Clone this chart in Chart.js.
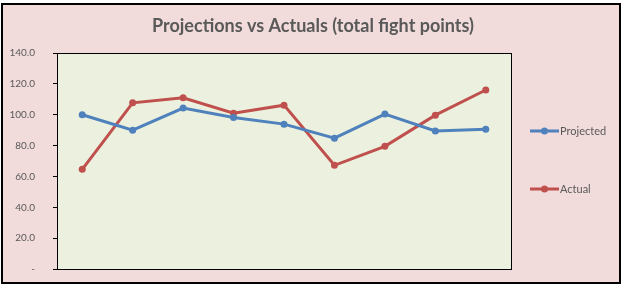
<!DOCTYPE html>
<html>
<head>
<meta charset="utf-8">
<script src="https://cdn.jsdelivr.net/npm/chart.js@4"></script>
<style>
  body { margin: 0; background: #fff; }
  #wrap {
    position: absolute; left: 1px; top: 3px;
    width: 616px; height: 277px;
    border: 2px solid #000;
    background: #F2DCDB;
  }
  canvas { display: block; }
</style>
</head>
<body>
<div id="wrap"><canvas id="chart" width="616" height="277"></canvas></div>
<script>
const fights = ['Fight 1', 'Fight 2', 'Fight 3', 'Fight 4', 'Fight 5', 'Fight 6', 'Fight 7', 'Fight 8', 'Fight 9'];
const projected = [100.0, 90.0, 104.3, 98.2, 93.9, 84.8, 100.4, 89.5, 90.6];
const actual = [64.6, 107.7, 111.0, 101.0, 106.2, 67.2, 79.5, 99.7, 116.0];
const yTicks = [0, 20, 40, 60, 80, 100, 120, 140];
const seriesNames = ['Projected', 'Actual'];
const blue = '#4F81BD';
const red = '#C0504D';
const greyText = '#595959';
const font = 'Lato, "Open Sans", sans-serif';

// plot background, border, title and excel-like legend
const excelLook = {
    id: 'excelLook',
    beforeDraw: function(chart) {
        const ctx = chart.ctx;
        const a = chart.chartArea;
        ctx.save();
        ctx.fillStyle = '#EBF1DE';
        ctx.fillRect(a.left, a.top, a.right - a.left, a.bottom - a.top);
        ctx.restore();
    },
    afterDraw: function(chart) {
        const ctx = chart.ctx;
        const a = chart.chartArea;
        ctx.save();
        ctx.strokeStyle = '#000';
        ctx.lineWidth = 1;
        ctx.strokeRect(Math.round(a.left) + 0.5, Math.round(a.top) + 0.5, Math.round(a.right - a.left), Math.round(a.bottom - a.top));

        ctx.fillStyle = greyText;
        ctx.font = 'bold 18px ' + font;
        ctx.textAlign = 'center';
        ctx.textBaseline = 'middle';
        ctx.fillText('Projections vs Actuals (total fight points)', 310, 21);

        const colors = [blue, red];
        const rows = [126, 184];
        ctx.font = '11px ' + font;
        ctx.textAlign = 'left';
        seriesNames.forEach(function(name, i) {
            const y = rows[i];
            ctx.strokeStyle = colors[i];
            ctx.fillStyle = colors[i];
            ctx.lineWidth = 3;
            ctx.beginPath();
            ctx.moveTo(527, y);
            ctx.lineTo(556, y);
            ctx.stroke();
            ctx.beginPath();
            ctx.arc(541.5, y, 3.5, 0, Math.PI * 2);
            ctx.fill();
            ctx.fillStyle = greyText;
            ctx.fillText(name, 557, y);
        });
        ctx.restore();
    }
};

new Chart(document.getElementById('chart'), {
    type: 'line',
    data: {
        labels: fights,
        datasets: [
            { label: seriesNames[0], data: projected, borderColor: blue, backgroundColor: blue },
            { label: seriesNames[1], data: actual, borderColor: red, backgroundColor: red }
        ]
    },
    options: {
        responsive: false,
        animation: false,
        layout: { padding: { left: 0, right: 108, top: 48, bottom: 13 } },
        elements: {
            line: { borderWidth: 3, tension: 0 },
            point: { radius: 3.5, borderWidth: 0, hoverRadius: 3.5 }
        },
        plugins: {
            legend: { display: false },
            title: { display: false },
            tooltip: { enabled: false }
        },
        scales: {
            x: {
                display: false,
                offset: true
            },
            y: {
                min: 0,
                max: 140,
                afterBuildTicks: function(scale) {
                    scale.ticks = yTicks.map(function(v) { return { value: v }; });
                },
                afterFit: function(scale) {
                    scale.width = 54;
                    // tick padding would otherwise push the plot bottom up
                    scale.paddingTop = 0;
                    scale.paddingBottom = 0;
                },
                grid: {
                    drawOnChartArea: false,
                    tickLength: 4,
                    color: '#000'
                },
                border: { color: '#000' },
                ticks: {
                    color: greyText,
                    padding: 18,
                    font: { family: font, size: 10 },
                    callback: function(v) { return v === 0 ? '-' : v.toFixed(1); }
                }
            }
        }
    },
    plugins: [excelLook]
});
</script>
</body>
</html>
